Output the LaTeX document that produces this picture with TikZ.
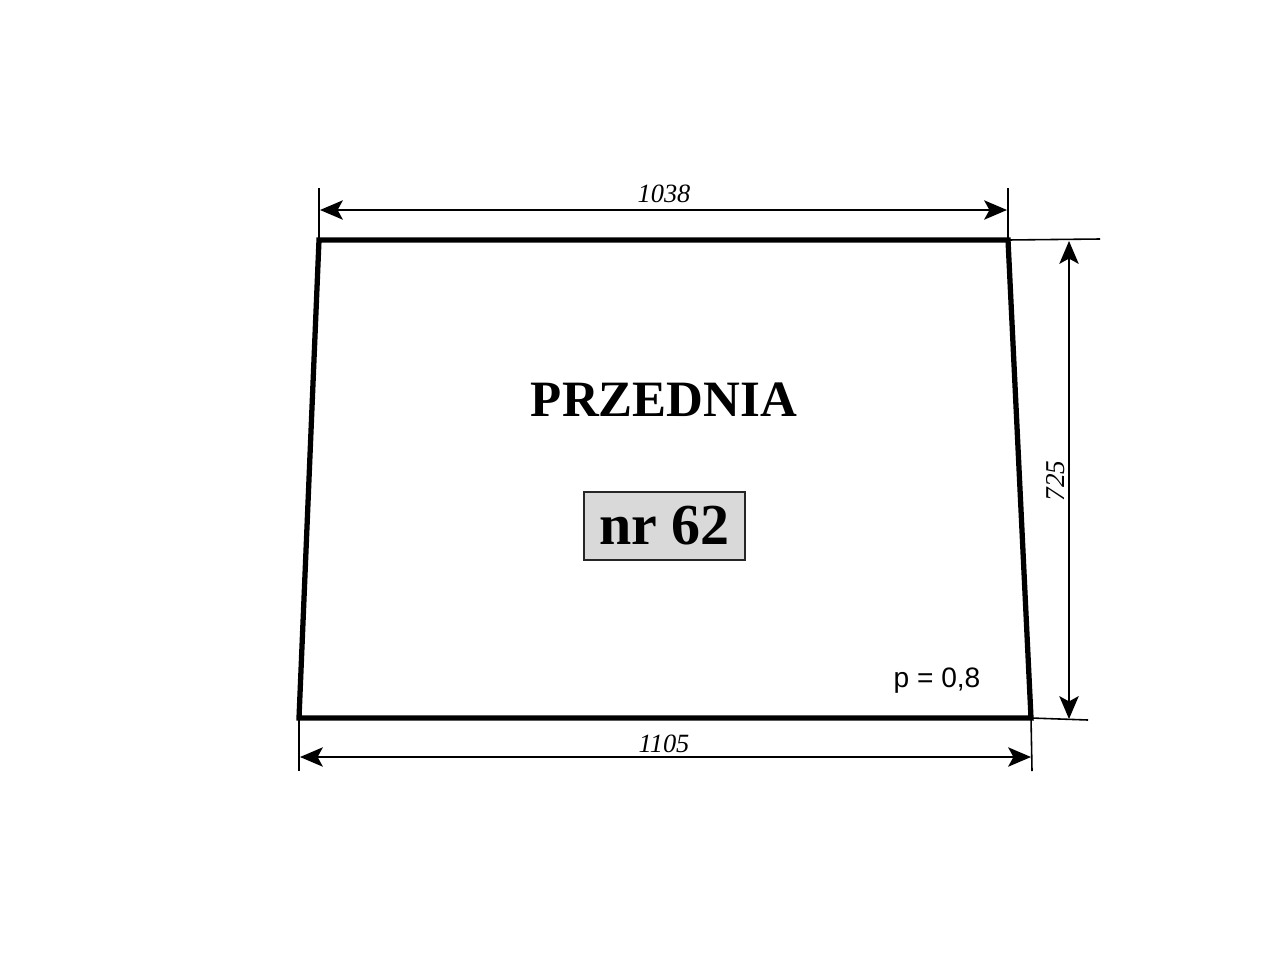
\documentclass[tikz,border=0pt]{standalone}
\usepackage{fontspec}
\setmainfont{Liberation Serif}
\newfontfamily\arialfont{Liberation Sans}
\usetikzlibrary{arrows.meta}
\begin{document}
\begin{tikzpicture}[x=0.02cm,y=-0.02cm,
  outline/.style={line width=3pt,line join=miter},
  dimline/.style={line width=1.1pt,{Stealth[length=13pt,width=11pt,inset=3pt]}-{Stealth[length=13pt,width=11pt,inset=3pt]}},
  extline/.style={line width=0.9pt},
  dimlabel/.style={font=\fontsize{15}{17}\selectfont\itshape,inner sep=0pt}]
\useasboundingbox (0,0) rectangle (1280,960);
% corners
\coordinate (tl) at (319,240);
\coordinate (tr) at (1008,240);
\coordinate (br) at (1031,718);
\coordinate (bl) at (299,718);
\draw[outline] (tl) -- (tr) -- (br) -- (bl) -- cycle;
% extension line ends
\coordinate (tlx) at (319,188);
\coordinate (trx) at (1008,188);
\coordinate (blx) at (299,771);
\coordinate (brx) at (1032,771);
\coordinate (trr) at (1100,239);
\coordinate (brr) at (1088,720);
\draw[extline] (tl) -- (tlx);
\draw[extline] (tr) -- (trx);
\draw[extline] (bl) -- (blx);
\draw[extline] (br) -- (brx);
\draw[extline] (tr) -- (trr);
\draw[extline] (br) -- (brr);
% dimension arrows
\coordinate (a1) at (320,210);
\coordinate (a2) at (1007,210);
\coordinate (b1) at (300,757);
\coordinate (b2) at (1031,757);
\coordinate (c1) at (1069,241);
\coordinate (c2) at (1069,719);
\draw[dimline] (a1) -- (a2);
\draw[dimline] (b1) -- (b2);
\draw[dimline] (c1) -- (c2);
\node[dimlabel] (l1038) at (664,194) {1038};
\node[dimlabel] (l1105) at (664,744) {1105};
\node[dimlabel,font=\fontsize{15.5}{17}\selectfont\itshape,rotate=90] (l725) at (1056,481) {725};
% texts
\node[font=\fontsize{29}{32}\selectfont\bfseries,inner sep=0pt] (title) at (664,400) {PRZEDNIA};
\node[draw=black!85,line width=0.9pt,fill=black!15,minimum width=161*0.02cm,minimum height=68*0.02cm,inner sep=0pt,
  font=\fontsize{33}{36}\selectfont\bfseries] (nr) at (664.5,526) {nr 62};
\node[font=\arialfont\fontsize{16}{18}\selectfont,inner sep=0pt] (p) at (937,681) {p = 0,8};
\end{tikzpicture}
\end{document}
